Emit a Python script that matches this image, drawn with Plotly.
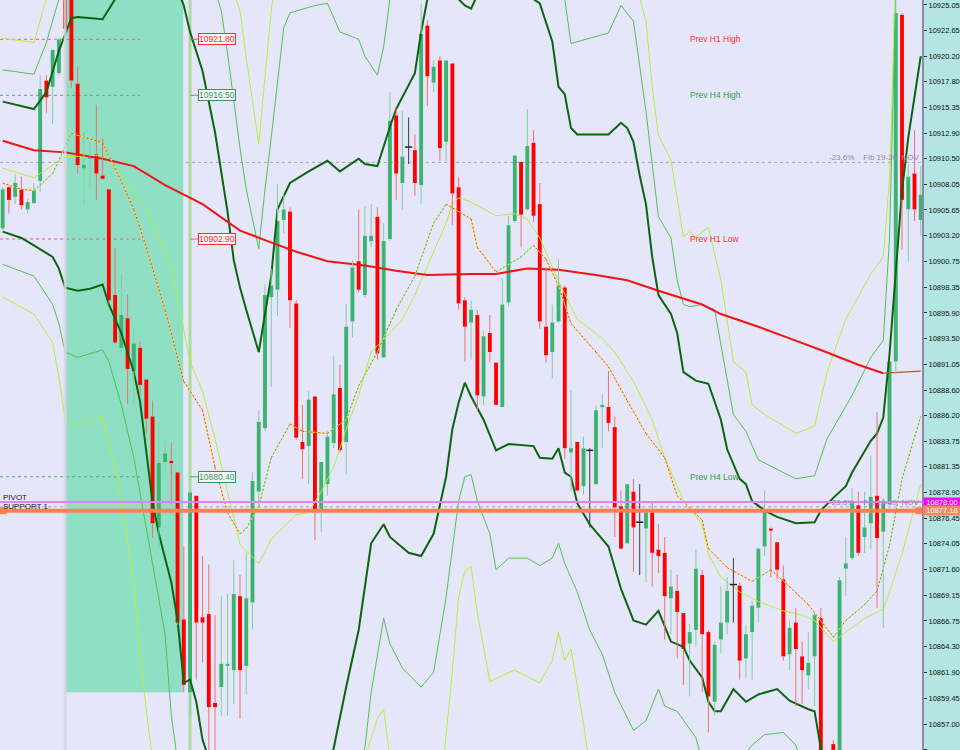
import plotly.graph_objects as go

# ---------------- candle data (one per bar, index 0..147) ----------------
OPEN = [10903.9,10907.8,10906.9,10907.6,10905.7,10906.3,10908.4,10917.9,10917.3,10918.6,
        10928.0,10927.5,10917.6,10909.6,10910.5,10910.9,10908.9,10907.6,10897.6,10892.6,
        10895.4,10890.4,10892.6,10889.6,10886.1,10875.6,10881.8,10881.9,10880.8,10866.9,
        10860.0,10878.6,10867.1,10867.4,10859.0,10860.5,10862.5,10862.1,10869.1,10862.5,
        10868.5,10879.0,10885.0,10897.4,10898.1,10904.7,10905.5,10896.8,10883.7,10883.3,
        10888.0,10877.2,10879.7,10883.6,10888.8,10883.7,10895.1,10900.8,10897.6,10902.7,
        10905.0,10891.7,10902.9,10914.6,10908.2,10911.6,10911.3,10908.0,10923.1,10917.7,
        10919.8,10912.1,10919.5,10907.8,10897.1,10895.0,10895.7,10888.0,10894.0,10891.2,
        10887.0,10896.9,10904.6,10910.2,10905.7,10912.0,10906.2,10894.6,10892.2,10895.1,
        10898.3,10882.7,10883.7,10879.5,10882.9,10879.7,10887.0,10887.0,10885.1,10877.6,
        10874.1,10879.0,10876.1,10875.5,10877.0,10873.5,10873.2,10868.9,10869.6,10867.5,
        10864.6,10865.9,10871.1,10865.7,10859.1,10865.0,10866.6,10870.2,10870.1,10863.2,
        10865.7,10868.0,10873.8,10875.5,10874.2,10870.7,10863.6,10866.6,10863.4,10861.6,
        10863.4,10867.0,10853.0,10855.1,10852.0,10871.7,10872.7,10877.7,10874.7,10876.0,
        10878.6,10875.2,10877.8,10891.3,10924.1,10905.7,10909.1,10904.7]
HIGH = [10907.8,10907.9,10909.0,10908.8,10906.7,10908.2,10918.4,10918.4,10920.8,10922.0,
        10928.5,10928.0,10919.2,10913.0,10912.1,10915.6,10912.4,10907.6,10902.1,10899.6,
        10897.6,10894.4,10893.2,10889.6,10887.6,10885.6,10883.9,10883.6,10880.8,10873.8,
        10878.9,10878.6,10872.9,10872.1,10867.3,10869.1,10869.3,10872.5,10871.1,10873.2,
        10880.8,10886.7,10898.6,10900.1,10908.1,10907.1,10905.9,10897.1,10887.2,10888.5,
        10888.0,10881.8,10884.7,10891.8,10891.0,10896.8,10900.9,10905.7,10906.0,10906.2,
        10905.9,10904.4,10916.8,10915.2,10915.0,10914.4,10912.8,10925.2,10923.6,10919.8,
        10920.2,10919.8,10919.5,10908.8,10897.4,10897.1,10896.2,10894.2,10895.7,10891.2,
        10899.2,10905.1,10910.8,10910.2,10915.2,10913.2,10908.2,10900.2,10896.7,10901.0,
        10898.5,10888.6,10883.7,10884.2,10883.1,10887.2,10888.2,10890.4,10886.1,10879.1,
        10879.7,10880.2,10879.7,10877.2,10878.1,10875.9,10874.7,10871.6,10871.1,10867.5,
        10866.5,10873.5,10871.6,10865.9,10864.8,10870.0,10870.9,10872.7,10870.4,10866.4,
        10868.6,10873.6,10879.1,10875.6,10874.2,10872.0,10866.8,10868.0,10864.8,10865.7,
        10867.5,10868.0,10853.8,10855.5,10870.9,10874.7,10879.3,10879.0,10879.0,10882.4,
        10886.5,10878.4,10891.3,10925.7,10924.3,10910.0,10913.2,10909.8]
LOW = [10903.7,10905.3,10906.2,10905.7,10905.3,10906.2,10907.3,10914.8,10913.8,10918.4,
       10922.6,10917.2,10909.1,10906.1,10907.6,10906.6,10908.5,10896.7,10893.0,10892.2,
       10887.3,10887.2,10888.1,10884.5,10874.6,10873.6,10880.8,10877.8,10866.4,10860.0,
       10858.0,10861.2,10862.8,10853.5,10853.5,10857.8,10857.8,10858.9,10857.5,10859.8,
       10866.0,10877.6,10884.7,10888.9,10895.6,10903.4,10894.5,10883.9,10880.2,10879.7,
       10874.4,10875.2,10878.6,10883.1,10882.7,10880.6,10893.6,10897.9,10897.4,10902.1,
       10891.5,10891.6,10902.7,10906.6,10905.7,10910.0,10907.0,10906.2,10915.5,10916.8,
       10910.3,10910.3,10904.2,10896.2,10891.3,10891.5,10886.6,10887.2,10891.2,10887.2,
       10887.0,10896.5,10904.4,10902.1,10905.6,10904.5,10894.4,10891.2,10889.7,10895.0,
       10882.1,10879.0,10879.0,10878.7,10875.6,10879.7,10883.1,10884.7,10874.7,10873.5,
       10874.1,10871.4,10871.1,10870.4,10870.0,10871.3,10865.0,10865.5,10863.2,10860.7,
       10859.6,10864.3,10860.0,10856.2,10857.8,10863.7,10865.5,10866.6,10861.2,10861.4,
       10861.2,10866.6,10872.9,10870.9,10870.7,10863.0,10862.1,10858.7,10858.9,10860.3,
       10858.7,10851.5,10850.5,10851.0,10851.5,10869.1,10872.5,10872.9,10873.2,10873.6,
       10868.0,10866.1,10877.7,10890.1,10901.9,10900.8,10904.6,10903.2]
CLOSE = [10907.6,10906.6,10908.2,10906.1,10906.4,10907.5,10917.1,10916.3,10920.8,10921.8,
         10922.8,10917.9,10909.9,10909.9,10910.7,10909.1,10908.6,10897.1,10893.1,10895.7,
         10890.6,10893.0,10889.1,10885.9,10876.0,10881.7,10882.6,10881.7,10866.6,10860.7,
         10878.9,10866.6,10866.6,10858.6,10858.6,10862.7,10862.7,10869.3,10862.1,10868.9,
         10880.0,10885.6,10897.6,10898.5,10904.6,10905.7,10897.1,10884.1,10883.0,10887.7,
         10877.2,10881.8,10884.2,10888.2,10882.9,10894.6,10900.2,10898.1,10903.2,10903.2,
         10892.1,10902.7,10914.1,10909.1,10910.7,10911.6,10908.2,10922.3,10918.3,10919.2,
         10911.5,10919.8,10907.2,10896.8,10894.6,10896.2,10888.1,10893.7,10892.2,10887.2,
         10896.7,10904.2,10910.8,10905.2,10911.7,10905.1,10895.1,10891.9,10895.0,10898.5,
         10883.1,10883.1,10879.1,10883.1,10882.9,10886.7,10887.2,10885.5,10877.5,10873.6,
         10879.7,10875.6,10876.1,10877.0,10873.2,10872.9,10869.1,10870.0,10867.6,10864.1,
         10865.7,10871.7,10865.5,10859.6,10864.5,10866.6,10869.6,10870.2,10863.0,10865.5,
         10868.2,10873.6,10877.2,10875.3,10871.6,10863.4,10866.1,10864.1,10862.1,10862.8,
         10867.3,10852.0,10851.5,10852.5,10870.6,10872.2,10877.9,10873.2,10875.6,10878.5,
         10874.6,10877.9,10891.3,10924.3,10906.6,10908.8,10905.7,10907.1]

# ---------------- indicator lines: (bar index, price) ----------------
RED_MA = [(0,10912.2),(5,10911.3),(10,10911.1),(16,10910.5),(21,10909.8),(26,10908.0),(32,10906.2),
          (38,10903.7),(42,10902.8),(47,10901.7),(52,10900.8),(58,10900.4),(63,10899.9),(68,10899.5),
          (75,10899.6),(79,10899.6),(84,10900.1),(89,10900.0),(95,10899.5),(100,10899.0),(105,10898.0),
          (112,10896.7),(115,10895.8),(121,10894.6),(126,10893.5),(131,10892.4),(137,10891.0),(141,10890.2)]
RED_MA_TAIL = [(141,10890.2),(144,10890.3),(147,10890.4)]

DG_UP = [(0,10915.9),(3,10915.5),(5,10915.2),(7,10916.8),(9,10920.7),(11,10923.8),(12,10923.9),(16,10923.7),
         (18,10925.6),(21,10928.0),(24,10929.0),(27,10928.0),(29,10925.0),(30,10922.5),(32,10918.8),(34,10913.0),
         (36,10905.5),(37,10900.9),(38,10898.3),(39,10896.2),(41,10892.2),(42,10895.8),(43,10899.4),(44,10905.7),
         (46,10908.2),(49,10909.3),(52,10910.3),(54,10909.3),(57,10910.5),(58,10910.0),(60,10909.8),(62,10913.5),
         (63,10915.2),(66,10918.6),(67,10922.5),(68,10925.6),(70,10927.0),(72,10926.5),(73,10925.6),(74,10925.0),
         (75,10924.7),(76,10926.0),(80,10928.0),(84,10926.0),(86,10925.2),(88,10921.6),(89,10917.3),(90,10916.6),
         (91,10913.4),(92,10912.8),(97,10912.8),(99,10913.9),(100,10913.4),(101,10912.1),(102,10908.9),(103,10906.2),
         (104,10901.2),(105,10897.6),(107,10895.8),(108,10894.0),(109,10890.3),(111,10889.5),(113,10889.2),
         (115,10885.8),(116,10883.0),(118,10880.2),(119,10879.7),(120,10878.1),(122,10877.2),(124,10876.6),
         (127,10876.0),(130,10876.1),(131,10877.2),(133,10878.4),(135,10879.5),(136,10880.8),(139,10883.8),
         (140,10884.5),(141,10886.0),(142,10892.0),(143,10900.0),(144,10907.5),(145,10912.5),(146,10916.5),(147,10920.2)]
DG_LO = [(0,10903.6),(3,10903.0),(5,10902.3),(8,10901.2),(9,10900.1),(10,10898.3),(12,10898.0),(14,10898.2),
         (16,10898.6),(17,10896.7),(19,10894.0),(21,10890.3),(22,10887.5),(24,10878.0),(25,10875.0),(27,10870.4),
         (28,10866.8),(29,10860.9),(30,10861.2),(31,10859.1),(32,10855.5),(34,10852.0),(40,10849.0),(48,10849.5),
         (52,10852.5),(53,10854.7),(55,10860.5),(57,10865.9),(59,10874.1),(61,10875.9),(62,10874.7),(65,10873.2),
         (67,10872.9),(69,10875.0),(71,10880.4),(72,10884.9),(73,10887.4),(74,10889.3),(75,10888.0),(77,10885.8),
         (79,10882.9),(81,10883.5),(85,10883.3),(86,10882.2),(88,10882.1),(89,10883.1),(90,10880.8),(91,10880.4),
         (92,10877.9),(94,10875.9),(96,10874.5),(97,10873.8),(99,10869.8),(101,10866.8),(103,10866.4),(105,10867.7),
         (107,10864.8),(109,10864.3),(110,10863.0),(112,10861.4),(113,10859.1),(114,10858.2),(115,10858.2),
         (117,10860.3),(119,10859.1),(121,10859.8),(124,10860.3),(126,10859.2),(129,10858.4),(130,10858.2),
         (131,10854.7),(133,10851.0),(147,10849.0)]
MG_UP = [(0,10918.9),(5,10918.5),(7,10921.5),(9,10925.6),(12,10929.0),(20,10932.0),(30,10930.0),(34,10926.5),
         (35,10924.5),(36,10920.5),(38,10911.5),(39,10907.6),(41,10902.0),(42,10907.6),(43,10912.5),(45,10922.9),
         (46,10924.3),(50,10925.0),(52,10925.2),(54,10922.5),(57,10921.8),(58,10920.2),(60,10918.4),(61,10921.1),
         (62,10925.6),(65,10929.0),(85,10929.0),(90,10925.6),(91,10921.4),(97,10922.4),(99,10925.0),(101,10923.5),
         (103,10915.0),(105,10905.0),(107,10903.0),(108,10899.0),(109,10896.7),(110,10896.5),(112,10896.7),
         (114,10896.2),(117,10886.3),(119,10884.7),(121,10882.0),(127,10880.2),(130,10880.5),(132,10884.0),
         (136,10888.1),(139,10891.7),(141,10893.3),(142,10903.0),(143,10926.0)]
MG_LO = [(0,10900.5),(5,10899.4),(8,10896.7),(9,10894.9),(10,10892.2),(12,10891.7),(16,10892.4),(17,10891.3),
         (19,10887.2),(21,10882.2),(23,10875.5),(24,10872.2),(26,10865.5),(27,10857.8),(28,10853.5),(40,10848.0),
         (56,10851.0),(58,10854.8),(59,10860.0),(61,10867.0),(62,10864.6),(64,10862.3),(67,10860.5),(69,10861.9),
         (71,10869.0),(73,10878.1),(74,10880.4),(75,10880.6),(76,10878.1),(78,10875.0),(79,10871.6),(81,10872.7),
         (84,10872.7),(86,10872.0),(88,10872.7),(89,10874.1),(90,10872.2),(92,10869.5),(94,10865.9),(96,10863.6),
         (98,10860.0),(101,10856.4),(103,10857.3),(105,10860.3),(106,10858.7),(108,10858.2),(111,10855.7),
         (112,10853.5),(118,10853.5),(120,10855.0),(122,10856.0),(125,10856.2),(127,10855.0),(128,10853.0),(147,10850.0)]
YG_UP = [(0,10921.9),(5,10921.5),(7,10925.6),(10,10930.0),(30,10932.0),(36,10928.0),(38,10924.5),(39,10920.0),
         (41,10911.9),(42,10918.0),(43,10924.5),(44,10929.0),(100,10930.0),(103,10923.6),(104,10917.3),
         (105,10912.7),(107,10910.4),(109,10903.1),(110,10903.6),(111,10903.1),(113,10904.0),(115,10899.0),
         (117,10891.3),(119,10890.3),(120,10887.2),(122,10886.3),(127,10884.5),(130,10885.2),(132,10890.3),
         (135,10895.3),(139,10899.6),(141,10901.2),(142,10908.5),(143,10928.0)]
YG_LO = [(0,10897.4),(5,10895.8),(8,10893.1),(9,10889.9),(10,10885.8),(12,10885.2),(16,10886.1),(17,10883.6),
         (19,10878.1),(21,10870.4),(22,10863.2),(24,10853.5),(30,10845.0),(56,10848.0),(58,10853.8),(60,10857.5),
         (61,10858.4),(62,10853.8),(64,10849.0),(70,10849.0),(71,10856.0),(72,10862.0),(73,10869.0),(74,10871.5),
         (75,10871.9),(76,10867.5),(78,10861.0),(80,10861.6),(82,10862.1),(86,10860.9),(88,10863.0),(89,10865.7),
         (90,10863.0),(91,10864.1),(93,10857.0),(94,10853.0),(100,10850.0),(147,10848.0)]
YG_MID = [(0,10909.6),(5,10908.7),(10,10910.7),(16,10910.8),(18,10909.8),(23,10905.7),(27,10900.3),(30,10891.3),
          (32,10888.5),(34,10884.0),(38,10874.0),(41,10872.2),(43,10874.5),(47,10876.8),(49,10877.0),(51,10879.0),
          (53,10881.3),(55,10884.9),(57,10888.1),(59,10892.2),(62,10894.0),(64,10895.3),(66,10897.6),(68,10900.3),
          (71,10904.4),(72,10906.2),(73,10906.8),(75,10906.4),(79,10905.1),(82,10905.3),(84,10904.8),(86,10903.0),
          (89,10898.9),(92,10895.3),(96,10893.5),(98,10892.2),(101,10889.4),(104,10885.8),(106,10882.2),
          (109,10878.2),(112,10875.9),(113,10873.1),(115,10870.9),(118,10869.5),(121,10868.6),(125,10867.7),
          (128,10867.3),(130,10866.8),(133,10864.8),(135,10865.7),(138,10867.0),(141,10867.9),(142,10869.5),
          (144,10873.1),(147,10879.7)]
DOT_MA = [(0,10908.2),(3,10907.6),(5,10907.5),(8,10909.1),(11,10912.9),(16,10912.0),(18,10909.6),(21,10905.7),
          (23,10902.1),(26,10896.2),(29,10889.4),(32,10886.7),(34,10881.3),(36,10877.0),(38,10875.0),(39,10875.5),
          (41,10877.6),(43,10882.2),(46,10885.4),(48,10884.7),(52,10884.5),(55,10885.8),(57,10889.0),(60,10892.2),
          (63,10896.2),(66,10899.4),(69,10904.4),(71,10906.2),(75,10904.8),(76,10902.1),(79,10899.8),(83,10901.2),
          (85,10902.3),(87,10901.0),(89,10898.5),(91,10894.9),(95,10892.2),(97,10890.8),(100,10887.6),(103,10884.5),
          (106,10882.2),(108,10878.6),(112,10876.3),(113,10873.6),(116,10871.8),(120,10870.5),(123,10871.6),
          (126,10870.0),(129,10868.3),(131,10866.8),(133,10865.2),(135,10866.8),(138,10868.3),(140,10869.6),
          (142,10873.9),(144,10880.2),(147,10886.1)]

# ---------------- levels and labels ----------------
LEVELS = [10921.80, 10916.50, 10902.90, 10880.40]
LEVEL_TEXT = ["10921.80", "10916.50", "10902.90", "10880.40"]
LEVEL_KIND = ["H1", "H4", "H1", "H4"]
PREV_LABELS = ["Prev H1 High", "Prev H4 High", "Prev H1 Low", "Prev H4 Low"]
PIVOT = 10878.00
SUPPORT1 = 10877.18
FIB_LEVELS = [10910.15, 10877.55]
FIB_TEXT = "-23.6%\u00a0\u00a0\u00a0\u00a0Fib 19-20\u00a0\u00a0NOV"
SESSION_START = 10          # gray separator bar
SESSION_END = 30            # light-green separator bar
BOX_BARS = (10.15, 28.9)    # shaded session box (bar units)
BOX_LOW = 10860.0

TICK_VALS = [10925.05,10922.65,10920.20,10917.80,10915.35,10912.90,10910.50,10908.05,10905.65,10903.20,
             10900.75,10898.35,10895.90,10893.50,10891.05,10888.60,10886.20,10883.75,10881.35,10878.90,
             10876.45,10874.05,10871.60,10869.15,10866.75,10864.30,10861.90,10859.45,10857.00,10854.55]
TICK_TEXT = ["%.2f" % v for v in TICK_VALS]

Y_BOT, Y_TOP = 10854.54, 10925.52
X0, X1 = -0.43, 147.2

FONT = "Liberation Sans"
C_BULL, C_BEAR = "#3cb371", "#ff0000"
C_H1, C_H4 = "#ff2e2e", "#2f9a4f"

fig = go.Figure()


def unzip(pts):
    return [p[0] for p in pts], [p[1] for p in pts]


def add_line(pts, color, width, dash=None):
    xs, ys = unzip(pts)
    fig.add_trace(go.Scatter(x=xs, y=ys, mode="lines", hoverinfo="skip",
                             line=dict(color=color, width=width, dash=dash)))


# bands
add_line(YG_UP, "#b2ef3a", 1)
add_line(YG_LO, "#b2ef3a", 1)
add_line(MG_UP, "#52c152", 1)
add_line(MG_LO, "#52c152", 1)
add_line(YG_MID, "#b2ef3a", 1)
add_line(DG_UP, "#0b650f", 2)
add_line(DG_LO, "#0b650f", 2)
add_line(RED_MA, "#f01414", 2)
add_line(RED_MA_TAIL, "#b25a2a", 1.2)

# dotted slope-coloured MA: yellow base + red (falling) / green (rising) dots
add_line(DOT_MA, "#f2f23a", 1)
fx, fy, rx, ry = [], [], [], []
for (a, va), (b, vb) in zip(DOT_MA[:-1], DOT_MA[1:]):
    if vb < va:
        fx += [a, b, None]; fy += [va, vb, None]
    else:
        rx += [a, b, None]; ry += [va, vb, None]
fig.add_trace(go.Scatter(x=fx, y=fy, mode="lines", hoverinfo="skip",
                         line=dict(color="#ff3a1a", width=1, dash="2px,2px")))
fig.add_trace(go.Scatter(x=rx, y=ry, mode="lines", hoverinfo="skip",
                         line=dict(color="#2aa888", width=1, dash="2px,2px")))

# candles
N = len(OPEN)
IDX = list(range(N))
bull_w = ([], [])
bear_w = ([], [])
doji_w = ([], [])
bx, by, bb, bc = [], [], [], []
dx, dy = [], []
for i in IDX:
    o, h, l, c = OPEN[i], HIGH[i], LOW[i], CLOSE[i]
    top, bot = max(o, c), min(o, c)
    if abs(c - o) < 0.05:
        doji_w[0].extend([i, i, None]); doji_w[1].extend([l, h, None])
        dx.append(i); dy.append(o)
        continue
    tgt = bull_w if c > o else bear_w
    tgt[0].extend([i, i, None, i, i, None]); tgt[1].extend([top, h, None, l, bot, None])
    bx.append(i); by.append(top - bot); bb.append(bot)
    bc.append(C_BULL if c > o else C_BEAR)

fig.add_trace(go.Bar(x=bx, y=by, base=bb, width=0.62, marker=dict(color=bc, line=dict(width=0)),
                     hoverinfo="skip"))
fig.add_trace(go.Scatter(x=bull_w[0], y=bull_w[1], mode="lines", hoverinfo="skip",
                         line=dict(color="#7fcfa0", width=1)))
fig.add_trace(go.Scatter(x=bear_w[0], y=bear_w[1], mode="lines", hoverinfo="skip",
                         line=dict(color="#f27070", width=1)))
fig.add_trace(go.Scatter(x=doji_w[0], y=doji_w[1], mode="lines", hoverinfo="skip",
                         line=dict(color="#3a3a4a", width=1)))
fig.add_trace(go.Scatter(x=dx, y=dy, mode="markers", hoverinfo="skip",
                         marker=dict(symbol="line-ew", size=5, line=dict(color="#222", width=1.5))))

# support end squares
fig.add_trace(go.Scatter(x=[X0 + 0.5, X1 - 0.5], y=[SUPPORT1, SUPPORT1], mode="markers", hoverinfo="skip",
                         marker=dict(symbol="square", size=7, color="#ff7f50")))

shapes = []
# session box and separators
shapes.append(dict(type="rect", xref="x", yref="y", x0=BOX_BARS[0], x1=BOX_BARS[1], y0=BOX_LOW, y1=Y_TOP,
                   fillcolor="#8edfc4", line=dict(width=0), layer="below"))
shapes.append(dict(type="line", xref="x", yref="paper", x0=SESSION_END, x1=SESSION_END, y0=0, y1=1,
                   line=dict(color="#a9dc9d", width=3), layer="below"))
shapes.append(dict(type="line", xref="x", yref="paper", x0=SESSION_START, x1=SESSION_START, y0=0, y1=1,
                   line=dict(color="rgba(212,212,222,0.85)", width=3), layer="above"))
# level lines
for lv, kind in zip(LEVELS, LEVEL_KIND):
    col = "#f06060" if kind == "H1" else "#5aaa6a"
    shapes.append(dict(type="line", xref="x", yref="y", x0=X0, x1=22, y0=lv, y1=lv,
                       line=dict(color=col, width=1, dash="3px,3px"), layer="below"))
    shapes.append(dict(type="line", xref="x", yref="y", x0=SESSION_END, x1=31.3, y0=lv, y1=lv,
                       line=dict(color=col, width=1), layer="above"))
# fib lines
for fv in FIB_LEVELS:
    shapes.append(dict(type="line", xref="paper", yref="y", x0=0, x1=1, y0=fv, y1=fv,
                       line=dict(color="#a4a4b8", width=1, dash="3px,3px"), layer="below"))
# pivot / support
shapes.append(dict(type="line", xref="paper", yref="y", x0=0, x1=1, y0=PIVOT, y1=PIVOT,
                   line=dict(color="#e284ef", width=2), layer="above"))
shapes.append(dict(type="line", xref="paper", yref="y", x0=0, x1=1, y0=SUPPORT1, y1=SUPPORT1,
                   line=dict(color="#ff7f50", width=4), layer="above"))

ann = []
for lv, txt, kind, lab in zip(LEVELS, LEVEL_TEXT, LEVEL_KIND, PREV_LABELS):
    col = C_H1 if kind == "H1" else C_H4
    ann.append(dict(x=31.3, y=lv, xref="x", yref="y", text=txt, showarrow=False, xanchor="left",
                    yanchor="middle", font=dict(family=FONT, size=8.5, color=col), bgcolor="#fbf6fc",
                    bordercolor=col, borderwidth=1, borderpad=0))
    ann.append(dict(x=109.7, y=lv, xref="x", yref="y", text=lab, showarrow=False, xanchor="left",
                    yanchor="middle", font=dict(family=FONT, size=8.5, color=col)))
ann.append(dict(x=0, y=PIVOT, xref="paper", yref="y", text="PIVOT", showarrow=False, xanchor="left",
                yanchor="bottom", xshift=1, yshift=-2, font=dict(family=FONT, size=8, color="#1a1a1a")))
ann.append(dict(x=0, y=SUPPORT1, xref="paper", yref="y", text="SUPPORT 1", showarrow=False, xanchor="left",
                yanchor="bottom", xshift=1, yshift=-2, font=dict(family=FONT, size=8, color="#1a1a1a")))
for fv in FIB_LEVELS:
    ann.append(dict(x=1, y=fv, xref="paper", yref="y", text=FIB_TEXT, showarrow=False, xanchor="right",
                    yanchor="bottom", xshift=-1, yshift=-2, font=dict(family=FONT, size=8, color="#8c8ca4")))
ann.append(dict(x=1, y=PIVOT, xref="paper", yref="y", text="%.2f" % PIVOT, showarrow=False, xanchor="left",
                yanchor="middle", xshift=1, width=36, height=9, bgcolor="#ff00ff", borderpad=0,
                font=dict(family=FONT, size=7.5, color="#ffffff")))
ann.append(dict(x=1, y=SUPPORT1, xref="paper", yref="y", text="%.2f" % SUPPORT1, showarrow=False,
                xanchor="left", yanchor="middle", xshift=1, width=36, height=9, bgcolor="#f58a5c",
                borderpad=0, font=dict(family=FONT, size=7.5, color="#fff0e0")))

fig.update_layout(
    width=960, height=750,
    margin=dict(l=0, r=38, t=0, b=0, autoexpand=False),
    paper_bgcolor="#b3e5e3",
    plot_bgcolor="#e6e6fa",
    showlegend=False,
    barmode="overlay",
    shapes=shapes,
    annotations=ann,
    xaxis=dict(range=[X0, X1], visible=False, showgrid=False, zeroline=False, automargin=False),
    yaxis=dict(range=[Y_BOT, Y_TOP], side="right", tickmode="array", tickvals=TICK_VALS, ticktext=TICK_TEXT,
               ticks="outside", ticklen=3, tickcolor="#333", tickwidth=1, automargin=False,
               tickfont=dict(family=FONT, size=7.5, color="#111"),
               showgrid=False, zeroline=False, showline=True, linecolor="#8a8aa8", linewidth=2, mirror=True),
)

fig.write_html("out.html", config={"displayModeBar": False, "staticPlot": True},
               post_script="document.body.style.margin='0';document.body.style.overflow='hidden';")
